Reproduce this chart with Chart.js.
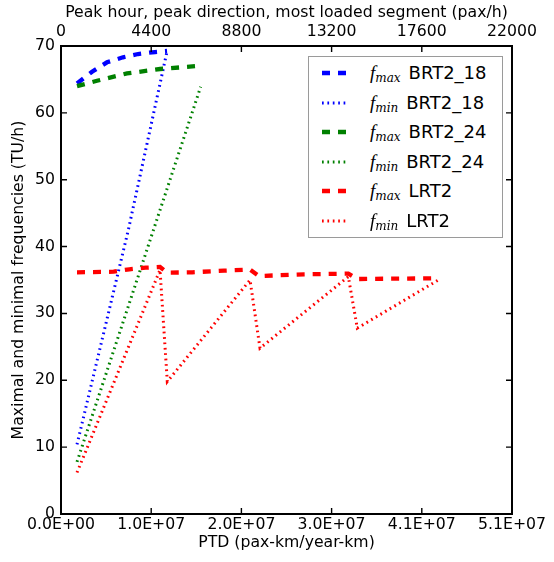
<!DOCTYPE html>
<html>
<head>
<meta charset="utf-8">
<script src="https://cdn.jsdelivr.net/npm/chart.js@4.4.1/dist/chart.umd.min.js"></script>
<style>
  html, body { margin: 0; padding: 0; background: #fff; }
  #wrap { position: relative; width: 554px; height: 562px; }
  #legend { position: absolute; left: 308px; top: 56px; width: 193px; height: 180px;
            background: #fff; border: 1.5px solid #9a9a9a; box-sizing: content-box; }
  .row { position: absolute; left: 0; height: 30px; width: 100%; }
  .row svg { position: absolute; left: 13px; top: 0; }
  .row .txt { position: absolute; left: 61px; top: 0; line-height: 30px; white-space: nowrap;
              font-family: "DejaVu Sans"; font-size: 18px; color: #000; }
  .row .f { font-family: "Liberation Serif"; font-style: italic; font-size: 19px; }
  .row sub { font-family: "DejaVu Serif"; font-style: italic; font-size: 12px; vertical-align: -3px; margin-right: 8px; }
</style>
</head>
<body>
<div id="wrap">
  <canvas id="c" width="554" height="562"></canvas>
  <div id="legend"></div>
</div>
<script>
// ---- data ----
const brt18MaxX = [1.80e6, 3.49e6, 5.17e6, 6.97e6, 8.66e6, 1.057e7, 1.192e7];
const brt18MaxY = [64.4, 66.15, 67.56, 68.31, 68.80, 69.10, 69.25];
const brt18MinX = [1.80e6, 7.57e6, 1.192e7];
const brt18MinY = [10.4, 42.5, 69.2];

const brt24MaxX = [1.80e6, 4.05e6, 7.42e6, 1.113e7, 1.529e7];
const brt24MaxY = [64.0, 64.8, 65.9, 66.56, 67.0];
const brt24MinX = [1.80e6, 1.570e7];
const brt24MinY = [7.8, 63.9];

const lrtMaxX = [1.80e6, 5.92e6, 7.68e6, 9.52e6, 1.113e7, 1.195e7, 1.476e7, 1.832e7, 2.125e7, 2.226e7, 2.732e7, 3.230e7, 3.328e7, 4.204e7];
const lrtMaxY = [36.15, 36.24, 36.6, 36.84, 36.95, 36.1, 36.15, 36.4, 36.55, 35.6, 35.85, 35.95, 35.15, 35.25];
const lrtMinX = [1.80e6, 1.113e7, 1.195e7, 2.125e7, 2.237e7, 3.230e7, 3.331e7, 4.242e7];
const lrtMinY = [6.2, 36.5, 19.8, 35.0, 24.8, 35.5, 27.8, 35.0];

const xTickLabels = ['0.0E+00', '1.0E+07', '2.0E+07', '3.0E+07', '4.1E+07', '5.1E+07'];
const topTickValues = [0, 4400, 8800, 13200, 17600, 22000];
const yTickValues = [0, 10, 20, 30, 40, 50, 60, 70];
const X_MAX = 5.07e7;

const BLUE = '#0000ff', GREEN = '#008000', RED = '#ff0000';
const FONT = 'DejaVu Sans';
const FS = 15.7;

function pts(xs, ys) { return xs.map((x, i) => ({ x: x, y: ys[i] })); }

const DASH = [8, 8], DOT = [1.7, 3.7];
function ds(xs, ys, color, kind, fsub, name, order) {
  const dashed = kind === 'dash';
  return {
    data: pts(xs, ys), borderColor: color, backgroundColor: color,
    borderWidth: dashed ? 4.3 : 3, borderDash: dashed ? DASH : DOT,
    borderCapStyle: 'butt', pointRadius: 0, pointHoverRadius: 0,
    showLine: true, fill: false, tension: 0, order: order,
    fsub: fsub, name: name, kind: kind
  };
}

const datasets = [
  ds(brt18MaxX, brt18MaxY, BLUE, 'dash', 'max', 'BRT2_18', 6),
  ds(brt18MinX, brt18MinY, BLUE, 'dot', 'min', 'BRT2_18', 5),
  ds(brt24MaxX, brt24MaxY, GREEN, 'dash', 'max', 'BRT2_24', 4),
  ds(brt24MinX, brt24MinY, GREEN, 'dot', 'min', 'BRT2_24', 3),
  ds(lrtMaxX, lrtMaxY, RED, 'dash', 'max', 'LRT2', 2),
  ds(lrtMinX, lrtMinY, RED, 'dot', 'min', 'LRT2', 1)
];

const TICK = 6;
const frameTicks = {
  id: 'frameTicks',
  afterDatasetsDraw(chart) {
    const { ctx, chartArea: a, scales } = chart;
    ctx.save();
    ctx.strokeStyle = '#000';
    ctx.lineWidth = 1.4;
    ctx.beginPath();
    scales.x.ticks.forEach(t => {
      const px = scales.x.getPixelForValue(t.value);
      ctx.moveTo(px, a.bottom); ctx.lineTo(px, a.bottom - TICK);
    });
    scales.x2.ticks.forEach(t => {
      const px = scales.x2.getPixelForValue(t.value);
      ctx.moveTo(px, a.top); ctx.lineTo(px, a.top + TICK);
    });
    scales.y.ticks.forEach(t => {
      const py = scales.y.getPixelForValue(t.value);
      ctx.moveTo(a.left, py); ctx.lineTo(a.left + TICK, py);
      ctx.moveTo(a.right, py); ctx.lineTo(a.right - TICK, py);
    });
    ctx.stroke();
    ctx.lineWidth = 2;
    ctx.strokeRect(a.left, a.top, a.right - a.left, a.bottom - a.top);
    ctx.restore();
  }
};

function fixSize(w, h) {
  return function (scale) {
    if (w !== null) scale.width = w;
    if (h !== null) scale.height = h;
  };
}

const tickFont = { family: FONT, size: FS };
const chart = new Chart(document.getElementById('c'), {
  type: 'scatter',
  data: { datasets: datasets },
  options: {
    responsive: false,
    animation: false,
    events: [],
    layout: { padding: 0 },
    plugins: { legend: { display: false }, tooltip: { enabled: false } },
    scales: {
      x: {
        type: 'linear', position: 'bottom', min: 0, max: X_MAX,
        grid: { display: false, drawTicks: false }, border: { display: false },
        afterBuildTicks: s => { s.ticks = xTickLabels.map((_, i) => ({ value: i * X_MAX / 5 })); },
        ticks: { autoSkip: false, maxRotation: 0, padding: 2, color: '#000', font: tickFont,
                 callback: (v, i) => xTickLabels[i] },
        title: { display: true, text: 'PTD (pax-km/year-km)', color: '#000',
                 font: { family: FONT, size: FS }, padding: { top: 0, bottom: 10 } },
        afterFit: fixSize(null, 48)
      },
      x2: {
        type: 'linear', position: 'top', min: 0, max: 22000,
        grid: { display: false, drawTicks: false }, border: { display: false },
        afterBuildTicks: s => { s.ticks = topTickValues.map(v => ({ value: v })); },
        ticks: { autoSkip: false, maxRotation: 0, padding: 5, color: '#000', font: tickFont,
                 callback: v => String(v) },
        title: { display: true, text: 'Peak hour, peak direction, most loaded segment (pax/h)', color: '#000',
                 font: { family: FONT, size: FS }, padding: { top: 4, bottom: 0 } },
        afterFit: fixSize(null, 46)
      },
      y: {
        type: 'linear', position: 'left', min: 0, max: 70,
        grid: { display: false, drawTicks: false }, border: { display: false },
        afterBuildTicks: s => { s.ticks = yTickValues.map(v => ({ value: v })); },
        ticks: { autoSkip: false, padding: 6, color: '#000', font: tickFont,
                 callback: v => String(v) },
        title: { display: true, text: 'Maximal and minimal frequencies (TU/h)', color: '#000',
                 font: { family: FONT, size: FS }, padding: { top: 10, bottom: 0 } },
        afterFit: fixSize(61, null)
      },
      y2: {
        type: 'linear', position: 'right', min: 0, max: 70,
        grid: { display: false, drawTicks: false }, border: { display: false },
        afterBuildTicks: s => { s.ticks = yTickValues.map(v => ({ value: v })); },
        ticks: { display: false },
        afterFit: fixSize(42, null)
      }
    }
  },
  plugins: [frameTicks]
});

// HTML legend built from the chart's datasets (keeps subscripts as real text)
(function buildLegend() {
  const box = document.getElementById('legend');
  chart.data.datasets.forEach((d, i) => {
    const row = document.createElement('div');
    row.className = 'row';
    row.style.top = (1 + i * 29.6) + 'px';
    const dashed = d.kind === 'dash';
    const dash = (dashed ? DASH : DOT).join(',');
    row.innerHTML =
      '<svg width="26" height="30"><line x1="0" y1="15" x2="26" y2="15" stroke="' + d.borderColor +
      '" stroke-width="' + d.borderWidth + '" stroke-dasharray="' + dash + '"/></svg>' +
      '<span class="txt"><span class="f">f</span><sub>' + d.fsub + '</sub>' + d.name + '</span>';
    box.appendChild(row);
  });
})();
</script>
</body>
</html>
